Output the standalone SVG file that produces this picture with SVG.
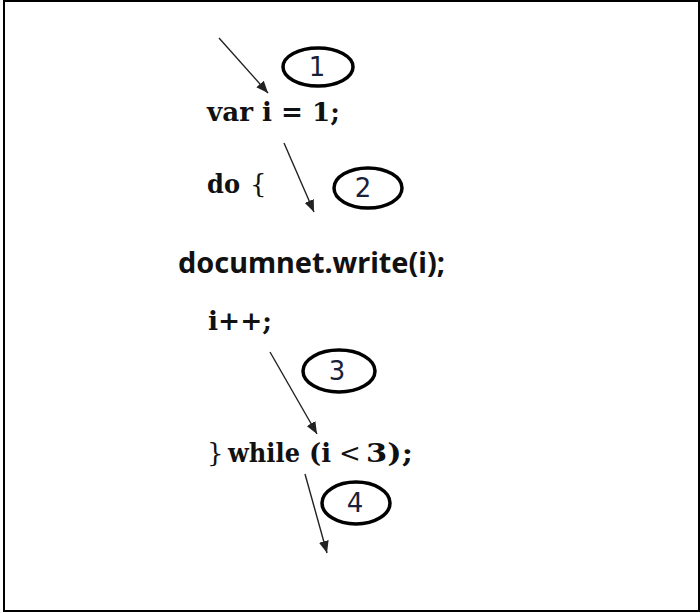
<svg xmlns="http://www.w3.org/2000/svg" width="700" height="613" viewBox="0 0 700 613">
<defs>
<marker id="ah" viewBox="0 0 12 10" refX="12" refY="5" markerWidth="12" markerHeight="10" markerUnits="userSpaceOnUse" orient="auto">
<path d="M0,0 L12,5 L0,10 Z" fill="#222"/>
</marker>
<style>
.code{font-family:"DejaVu Serif","Liberation Serif",serif;font-size:26px;fill:#111}
.b{font-weight:bold}
.n{font-weight:normal}
.sans{font-family:"Noto Sans","Open Sans","Liberation Sans",sans-serif;font-weight:bold;font-size:28px;fill:#111}
.num{font-family:"DejaVu Sans","Liberation Sans",sans-serif;font-size:26px;fill:#1a1f3a;text-anchor:middle}
.ell{fill:none;stroke:#000;stroke-width:3.5}
.arr{stroke:#222;stroke-width:1.4;fill:none}
</style>
</defs>
<rect x="4" y="1" width="695" height="610" fill="#fff" stroke="#000" stroke-width="2"/>
<g id="line1"><text class="code b" x="207" y="121" textLength="133" lengthAdjust="spacingAndGlyphs">var i = 1;</text></g>
<g id="line2"><text class="code b" x="207" y="193" textLength="33" lengthAdjust="spacingAndGlyphs">do</text><text class="code n" x="250" y="193">{</text></g>
<g id="line3"><text class="sans" x="178" y="273" textLength="267" lengthAdjust="spacingAndGlyphs">documnet.write(i);</text></g>
<g id="line4"><text class="code b" x="208" y="330" textLength="64" lengthAdjust="spacingAndGlyphs">i++;</text></g>
<g id="line5">
<text class="code n" x="207" y="462">}</text>
<text class="code b" x="228" y="462" textLength="72" lengthAdjust="spacingAndGlyphs">while</text>
<text class="code b" x="309" y="462" textLength="22" lengthAdjust="spacingAndGlyphs">(i</text>
<text class="code n" x="339" y="462">&lt;</text>
<text class="code b" x="366" y="462" textLength="47" lengthAdjust="spacingAndGlyphs">3);</text>
</g>
<g id="step1"><ellipse class="ell" cx="318" cy="67" rx="35" ry="19"/><text class="num" x="317" y="76">1</text></g>
<g id="step2"><ellipse class="ell" cx="368" cy="188" rx="34" ry="20"/><text class="num" x="363" y="197">2</text></g>
<g id="step3"><ellipse class="ell" cx="339" cy="371" rx="36" ry="21"/><text class="num" x="337" y="380">3</text></g>
<g id="step4"><ellipse class="ell" cx="356" cy="503" rx="34" ry="21"/><text class="num" x="355" y="512">4</text></g>
<g id="connectors">
<line class="arr" x1="219" y1="38" x2="268" y2="93" marker-end="url(#ah)"/>
<line class="arr" x1="284" y1="143" x2="314" y2="212" marker-end="url(#ah)"/>
<line class="arr" x1="270" y1="352" x2="317" y2="434" marker-end="url(#ah)"/>
<line class="arr" x1="305" y1="474" x2="327" y2="553" marker-end="url(#ah)"/>
</g>
</svg>
